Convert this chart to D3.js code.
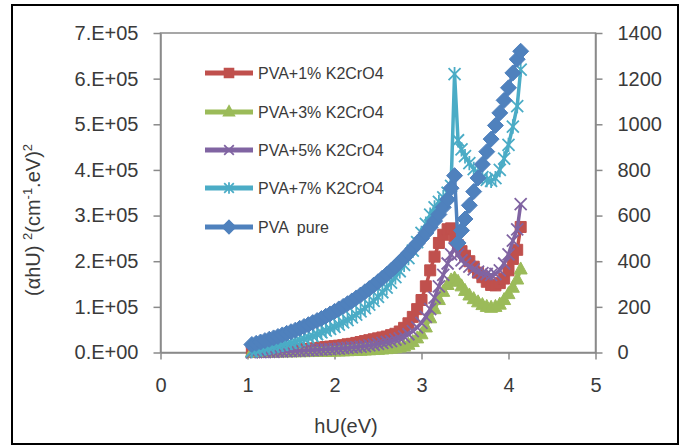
<!DOCTYPE html>
<html>
<head>
<meta charset="utf-8">
<script src="https://cdn.jsdelivr.net/npm/d3@7"></script>
<style>
  html, body { margin: 0; padding: 0; background: #fff; }
  svg { display: block; font-family: 'Liberation Sans', Arial, sans-serif; }
</style>
</head>
<body>
<div id="chart"></div>
<script>
// photon energy (eV), shared by every series
const energy = [
  1.05,1.10,1.15,1.20,1.25,1.30,1.35,1.40,1.45,1.50,
  1.55,1.60,1.65,1.70,1.75,1.80,1.85,1.90,1.95,2.00,
  2.05,2.10,2.15,2.20,2.25,2.30,2.35,2.40,2.45,2.50,
  2.55,2.60,2.65,2.70,2.75,2.80,2.85,2.90,2.95,3.00,
  3.05,3.10,3.15,3.20,3.25,3.30,3.34,3.38,3.42,3.46,
  3.50,3.55,3.60,3.65,3.70,3.75,3.80,3.85,3.90,3.95,
  4.00,4.05,4.10,4.14
];

// primary axis series, in units of 1e5
const pva1 = [
  0.01,0.015,0.02,0.025,0.03,0.035,0.04,0.045,0.05,0.055,
  0.06,0.07,0.075,0.08,0.09,0.10,0.11,0.12,0.13,0.14,
  0.15,0.16,0.18,0.19,0.21,0.23,0.25,0.27,0.29,0.31,
  0.33,0.35,0.38,0.41,0.46,0.54,0.64,0.78,0.95,1.15,
  1.45,1.80,2.10,2.40,2.58,2.70,2.72,2.55,2.35,2.22,
  2.12,2.00,1.88,1.75,1.65,1.55,1.48,1.47,1.52,1.62,
  1.80,2.05,2.25,2.75
];
const pva3 = [
  0,0,0,0.001,0.002,0.003,0.004,0.005,0.006,0.007,
  0.008,0.009,0.010,0.011,0.012,0.014,0.016,0.018,0.02,0.022,
  0.024,0.027,0.03,0.033,0.037,0.041,0.045,0.05,0.055,0.06,
  0.067,0.075,0.085,0.095,0.11,0.13,0.17,0.23,0.31,0.40,
  0.55,0.75,0.95,1.15,1.33,1.48,1.58,1.62,1.55,1.45,
  1.35,1.25,1.17,1.10,1.04,1.00,0.98,1.00,1.05,1.15,
  1.28,1.42,1.60,1.82
];
const pva5 = [
  0.005,0.007,0.009,0.011,0.013,0.016,0.019,0.022,0.026,0.03,
  0.034,0.038,0.043,0.048,0.053,0.058,0.063,0.069,0.075,0.08,
  0.087,0.094,0.10,0.11,0.12,0.13,0.14,0.155,0.17,0.19,
  0.21,0.23,0.25,0.28,0.31,0.35,0.40,0.47,0.55,0.65,
  0.78,0.95,1.20,1.45,1.70,1.95,2.15,2.28,2.15,2.02,
  1.95,1.88,1.82,1.77,1.74,1.72,1.70,1.72,1.80,1.95,
  2.15,2.45,2.70,3.25
];
const pva7 = [
  0.03,0.05,0.07,0.09,0.11,0.13,0.15,0.17,0.19,0.21,
  0.24,0.27,0.30,0.33,0.36,0.40,0.44,0.48,0.52,0.56,
  0.61,0.66,0.71,0.77,0.83,0.90,0.97,1.05,1.13,1.22,
  1.32,1.42,1.53,1.65,1.78,1.92,2.07,2.23,2.42,2.62,
  2.82,3.02,3.18,3.30,3.40,3.50,3.65,6.10,4.65,4.45,
  4.30,4.15,4.02,3.92,3.84,3.78,3.76,3.82,4.00,4.25,
  4.55,4.95,5.40,6.20
];
// secondary axis series (0-1400)
const pvaPure = [
  35,40,46,52,58,64,70,77,84,91,
  98,106,114,122,131,140,149,159,169,180,
  191,202,214,226,239,252,266,280,295,310,
  326,342,359,377,396,415,435,456,478,500,
  524,549,576,605,636,670,720,775,480,535,
  585,645,705,765,825,880,935,995,1050,1105,
  1160,1225,1285,1320
];

const seriesNames = ['PVA+1% K2CrO4', 'PVA+3% K2CrO4', 'PVA+5% K2CrO4', 'PVA+7% K2CrO4', 'PVA  pure'];
const xTicks = [0, 1, 2, 3, 4, 5];
const yTicks = [0, 1, 2, 3, 4, 5, 6, 7];
const yTickLabels = ['0.E+00', '1.E+05', '2.E+05', '3.E+05', '4.E+05', '5.E+05', '6.E+05', '7.E+05'];
const y2Ticks = [0, 200, 400, 600, 800, 1000, 1200, 1400];

const COLORS = ['#c0504d', '#9bbb59', '#8064a2', '#4bacc6', '#4f81bd'];
const AXIS_GREY = '#8a8a8a';
const TEXT = '#3a3a3a';

const W = 686, H = 447;
const plotL = 160.5, plotR = 595.5, plotT = 33, plotB = 352.5;

const svg = d3.select('#chart').append('svg').attr('width', W).attr('height', H);

svg.append('rect')
  .attr('x', 12).attr('y', 5).attr('width', 666).attr('height', 439)
  .attr('fill', '#fff').attr('stroke', '#000').attr('stroke-width', 2);

const x = d3.scaleLinear().domain([0, 5]).range([plotL, plotR]);
const y = d3.scaleLinear().domain([0, 7]).range([plotB, plotT]);
const y2 = d3.scaleLinear().domain([0, 1400]).range([plotB, plotT]);

// plot area border
svg.append('rect')
  .attr('x', plotL).attr('y', plotT).attr('width', plotR - plotL).attr('height', plotB - plotT)
  .attr('fill', 'none').attr('stroke', AXIS_GREY).attr('stroke-width', 1.5);

function styleAxis(g) {
  g.attr('font-family', null);
  g.select('.domain').attr('stroke', AXIS_GREY).attr('stroke-width', 1.5);
  g.selectAll('.tick line').attr('stroke', AXIS_GREY).attr('stroke-width', 1.5);
  g.selectAll('.tick text').attr('fill', TEXT).attr('font-size', 20);
}

svg.append('g')
  .attr('transform', `translate(${plotL},0)`)
  .call(d3.axisLeft(y).tickValues(yTicks).tickFormat((d, i) => yTickLabels[i])
    .tickSize(7).tickSizeOuter(0).tickPadding(15))
  .call(styleAxis);

svg.append('g')
  .attr('transform', `translate(${plotR},0)`)
  .call(d3.axisRight(y2).tickValues(y2Ticks).tickFormat(d3.format('d'))
    .tickSize(7).tickSizeOuter(0).tickPadding(15))
  .call(styleAxis);

svg.append('g')
  .attr('transform', `translate(0,${plotB})`)
  .call(d3.axisBottom(x).tickValues(xTicks).tickFormat(d3.format('d'))
    .tickSize(7).tickSizeOuter(0).tickPadding(18))
  .call(styleAxis);

// axis titles
svg.append('text')
  .attr('x', 346).attr('y', 433)
  .attr('text-anchor', 'middle').attr('font-size', 20).attr('fill', TEXT)
  .text('hU(eV)');

const yTitle = svg.append('text')
  .attr('transform', 'translate(40,220) rotate(-90)')
  .attr('text-anchor', 'middle').attr('font-size', 20).attr('fill', TEXT)
  .style('white-space', 'pre');
yTitle.append('tspan').text('(αhU) ');
yTitle.append('tspan').attr('font-size', 13).attr('dy', -8).text('2');
yTitle.append('tspan').attr('dy', 8).text('(cm');
yTitle.append('tspan').attr('font-size', 13).attr('dy', -8).text('-1');
yTitle.append('tspan').attr('dy', 8).text('.eV)');
yTitle.append('tspan').attr('font-size', 13).attr('dy', -8).text('2');

// marker shapes
const markerPath = {
  square: s => `M${-s},${-s}H${s}V${s}H${-s}Z`,
  triangle: s => `M0,${-s * 1.15}L${s},${s * 0.7}L${-s},${s * 0.7}Z`,
  x: s => `M${-s},${-s}L${s},${s}M${-s},${s}L${s},${-s}`,
  star: s => `M${-s},${-s}L${s},${s}M${-s},${s}L${s},${-s}M0,${-s * 1.2}V${s * 1.2}`,
  diamond: s => `M0,${-s}L${s},0L0,${s}L${-s},0Z`
};

const series = [
  { name: seriesNames[0], values: pva1, scale: v => y(v), color: COLORS[0], shape: 'square', size: 5.5 },
  { name: seriesNames[1], values: pva3, scale: v => y(v), color: COLORS[1], shape: 'triangle', size: 6.5 },
  { name: seriesNames[2], values: pva5, scale: v => y(v), color: COLORS[2], shape: 'x', size: 6 },
  { name: seriesNames[3], values: pva7, scale: v => y(v), color: COLORS[3], shape: 'star', size: 6 },
  { name: seriesNames[4], values: pvaPure, scale: v => y2(v), color: COLORS[4], shape: 'diamond', size: 8 }
];

const plot = svg.append('g');

series.forEach(s => {
  const pts = energy.map((e, i) => [x(e), s.scale(s.values[i])]);
  const g = plot.append('g');
  g.append('path')
    .attr('d', d3.line()(pts))
    .attr('fill', 'none')
    .attr('stroke', s.color)
    .attr('stroke-width', 3.5)
    .attr('stroke-linejoin', 'round');
  const filled = s.shape === 'square' || s.shape === 'triangle' || s.shape === 'diamond';
  g.selectAll('path.m')
    .data(pts)
    .join('path')
    .attr('class', 'm')
    .attr('transform', d => `translate(${d[0]},${d[1]})`)
    .attr('d', markerPath[s.shape](s.size))
    .attr('fill', filled ? s.color : 'none')
    .attr('stroke', s.color)
    .attr('stroke-width', filled ? 1 : 1.8);
});

// legend
const legendRows = [73, 112, 150, 188, 227];
const legend = svg.append('g');
series.forEach((s, i) => {
  const ly = legendRows[i];
  legend.append('line')
    .attr('x1', 205).attr('x2', 253).attr('y1', ly).attr('y2', ly)
    .attr('stroke', s.color).attr('stroke-width', 5);
  legend.append('path')
    .attr('transform', `translate(229,${ly})`)
    .attr('d', markerPath[s.shape](s.size * 0.8))
    .attr('fill', s.shape === 'x' || s.shape === 'star' ? 'none' : s.color)
    .attr('stroke', s.color)
    .attr('stroke-width', 1.8);
  legend.append('text')
    .attr('x', 258).attr('y', ly).attr('dy', '0.36em')
    .attr('font-size', 16).attr('fill', TEXT)
    .style('white-space', 'pre')
    .text(s.name);
});
</script>
</body>
</html>
